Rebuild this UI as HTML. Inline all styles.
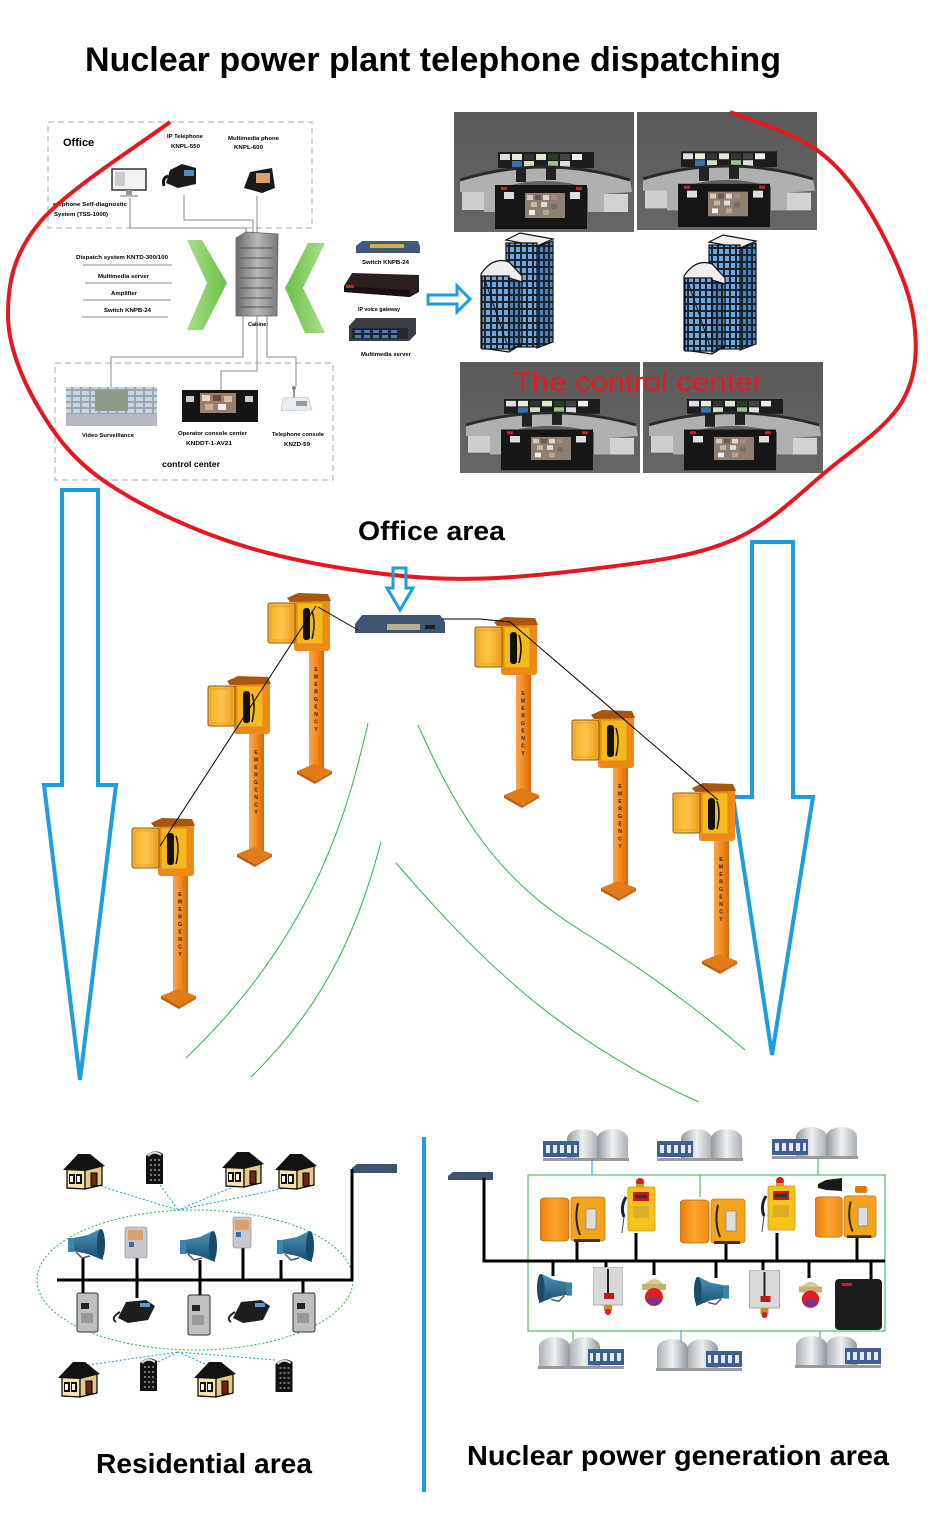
<!DOCTYPE html>
<html><head><meta charset="utf-8"><style>
html,body{margin:0;padding:0;background:#fff;}
svg{display:block;font-family:"Liberation Sans",Arial,sans-serif;}
</style></head><body>
<svg width="928" height="1536" viewBox="0 0 928 1536" xmlns="http://www.w3.org/2000/svg" xmlns:xlink="http://www.w3.org/1999/xlink">
<defs>
<linearGradient id="bgcc" x1="0" y1="0" x2="0" y2="1"><stop offset="0" stop-color="#5a5a5a"/><stop offset="1" stop-color="#666"/></linearGradient>
<linearGradient id="grn" x1="0" y1="0" x2="1" y2="0"><stop offset="0" stop-color="#a8dd88"/><stop offset="1" stop-color="#6cc14a"/></linearGradient>
<linearGradient id="grn2" x1="1" y1="0" x2="0" y2="0"><stop offset="0" stop-color="#a8dd88"/><stop offset="1" stop-color="#6cc14a"/></linearGradient>
<linearGradient id="cab" x1="0" y1="0" x2="1" y2="0"><stop offset="0" stop-color="#6a6a6a"/><stop offset=".5" stop-color="#b8b8b8"/><stop offset="1" stop-color="#7a7a7a"/></linearGradient>
<linearGradient id="dome" x1="0" y1="0" x2="1" y2="0"><stop offset="0" stop-color="#8f989e"/><stop offset=".5" stop-color="#eef0f2"/><stop offset="1" stop-color="#a9b0b5"/></linearGradient>
<linearGradient id="pole" x1="0" y1="0" x2="1" y2="0"><stop offset="0" stop-color="#f9a850"/><stop offset=".5" stop-color="#f28a1e"/><stop offset="1" stop-color="#d06a12"/></linearGradient>
<linearGradient id="door" x1="0" y1="0" x2="1" y2="0"><stop offset="0" stop-color="#f6b02a"/><stop offset=".5" stop-color="#fcc44a"/><stop offset="1" stop-color="#ec9f1c"/></linearGradient>
<linearGradient id="odoor" x1="0" y1="0" x2="1" y2="0"><stop offset="0" stop-color="#f07c10"/><stop offset=".5" stop-color="#fca62c"/><stop offset="1" stop-color="#ee8a18"/></linearGradient>
<linearGradient id="horn" x1="0" y1="0" x2="0" y2="1"><stop offset="0" stop-color="#4a93b8"/><stop offset="1" stop-color="#184d6c"/></linearGradient>
<pattern id="win" width="6" height="7" patternUnits="userSpaceOnUse"><rect width="6" height="7" fill="#1b2530"/><rect x="1" y="1" width="4" height="5" fill="#6ea8de"/></pattern>
<pattern id="win2" width="5" height="7" patternUnits="userSpaceOnUse"><rect width="5" height="7" fill="#1b2530"/><rect x="1" y="1" width="3" height="5" fill="#4b86bf"/></pattern>
<pattern id="vw" width="9" height="6" patternUnits="userSpaceOnUse"><rect width="9" height="6" fill="#9aa6b2"/><rect x="1" y="1" width="7" height="4" fill="#c9d3dc"/></pattern>
<pattern id="rgrid" width="4" height="5" patternUnits="userSpaceOnUse"><rect width="4" height="5" fill="#111"/><rect x="1" y="1" width="2" height="2" fill="#777"/></pattern>

<symbol id="cc" viewBox="0 0 180 120" preserveAspectRatio="none">
<rect width="180" height="120" fill="url(#bgcc)"/>
<rect x="44" y="40" width="96" height="16" fill="#1d1d1d"/>
<rect x="46" y="42" width="10" height="6" fill="#ddd"/><rect x="58" y="42" width="10" height="6" fill="#e9ecd8"/><rect x="70" y="42" width="10" height="6" fill="#333"/><rect x="82" y="42" width="10" height="6" fill="#dfe8d2"/><rect x="94" y="42" width="10" height="6" fill="#2c3a2c"/><rect x="106" y="42" width="10" height="6" fill="#444"/><rect x="118" y="42" width="10" height="6" fill="#eee"/>
<rect x="58" y="49" width="10" height="6" fill="#3b6fb0"/><rect x="70" y="49" width="10" height="6" fill="#cfe0c0"/><rect x="94" y="49" width="10" height="6" fill="#9ac28a"/><rect x="106" y="49" width="10" height="6" fill="#ddd"/>
<path d="M6,68 Q90,42 176,68 L178,80 L150,82 L150,100 L134,100 L134,76 Q90,62 46,76 L46,100 L30,100 L30,82 L6,80Z" fill="#b0b0b0"/>
<path d="M6,68 Q90,42 176,68" fill="none" stroke="#2a2a2a" stroke-width="3"/>
<rect x="8" y="80" width="22" height="18" fill="#cfcfcf"/><rect x="150" y="82" width="24" height="18" fill="#d2d2d2"/>
<rect x="62" y="56" width="10" height="14" fill="#222"/><rect x="92" y="54" width="10" height="14" fill="#222"/>
<rect x="41" y="73" width="92" height="44" fill="#161616"/>
<rect x="71" y="81" width="40" height="25" fill="#8d7f74"/>
<rect x="73" y="83" width="6" height="5" fill="#d9c8b4"/><rect x="81" y="83" width="6" height="5" fill="#6a5a4e"/><rect x="89" y="83" width="6" height="5" fill="#e5d7c8"/><rect x="97" y="83" width="6" height="5" fill="#a88"/><rect x="77" y="90" width="6" height="5" fill="#c9b8a0"/><rect x="87" y="90" width="6" height="5" fill="#ddd"/><rect x="97" y="92" width="6" height="5" fill="#7c6a60"/><rect x="75" y="98" width="6" height="5" fill="#eee"/><rect x="89" y="98" width="6" height="5" fill="#b9a58e"/>
<rect x="50" y="80" width="10" height="7" fill="#ddd"/><rect x="116" y="80" width="10" height="7" fill="#ddd"/>
<rect x="47" y="75" width="6" height="3" fill="#c0262a"/><rect x="122" y="75" width="6" height="3" fill="#c0262a"/>
</symbol>

<symbol id="bld" viewBox="0 0 76 122">
<polygon points="27,8 41,1 74,7 58,14" fill="#f0f0f0" stroke="#111" stroke-width="1.2"/>
<rect x="27" y="11" width="31" height="104" fill="url(#win)" stroke="#111" stroke-width="1.2"/>
<polygon points="58,14 74,9 74,110 58,116" fill="url(#win2)" stroke="#111" stroke-width="1.2"/>
<path d="M2,42 Q14,24 30,30 L43,44 L43,112 L30,120 L2,116Z" fill="#eee" stroke="#111" stroke-width="1.2"/>
<rect x="3" y="44" width="27" height="73" fill="url(#win)" stroke="#111" stroke-width="1.2"/>
<polygon points="30,46 43,50 43,112 30,118" fill="url(#win2)" stroke="#111" stroke-width="1.2"/>
<line x1="6" y1="48" x2="28" y2="112" stroke="#111" stroke-width="1"/>
</symbol>

<symbol id="post" viewBox="0 0 64 190" overflow="visible">
<rect x="41" y="55" width="15" height="120" fill="url(#pole)"/>
<polygon points="29,178 46,171 64,178 47,188" fill="#e27a18"/>
<polygon points="29,178 47,188 47,191 29,181" fill="#b85f10"/>
<polygon points="47,188 64,178 64,181 47,191" fill="#c96a14"/>
<rect x="26" y="4" width="36" height="54" rx="3" fill="#ee8a1c"/>
<polygon points="19,5 30,0 60,1 63,8 22,9" fill="#a9570f"/>
<rect x="29" y="10" width="26" height="41" fill="#f6b81a" stroke="#d9900e" stroke-width="1"/>
<rect x="35" y="15" width="7" height="32" rx="3" fill="#111"/>
<path d="M44,18 Q48,30 44,46" stroke="#111" stroke-width="1.5" fill="none"/>
<rect x="0" y="10" width="27" height="40" rx="2" fill="url(#door)" stroke="#8a5d0c" stroke-width="1"/>
<rect x="3" y="13" width="21" height="34" fill="none" stroke="#e6a020" stroke-width="1"/>
</symbol>

<symbol id="house" viewBox="0 0 42 38">
<polygon points="4,36 4,16 22,18 22,37" fill="#f4e3ae" stroke="#000" stroke-width="1.2"/>
<polygon points="22,18 39,14 39,33 22,37" fill="#e3c985" stroke="#000" stroke-width="1.2"/>
<polygon points="0,18 15,2 27,2 42,14 22,19" fill="#111"/>
<rect x="6" y="22" width="6" height="10" fill="#111"/><rect x="13" y="22" width="6" height="10" fill="#111"/>
<rect x="7" y="24" width="3" height="6" fill="#fff"/><rect x="14" y="24" width="3" height="6" fill="#fff"/>
<rect x="28" y="21" width="6" height="13" fill="#6b2a10" stroke="#000"/>
</symbol>

<symbol id="tower" viewBox="0 0 19 38">
<path d="M1,8 Q9,0 18,6 L18,36 L1,36Z" fill="#111"/>
<path d="M3,8 Q9,2 16,7" stroke="#ddd" stroke-width="2" fill="none"/>
<rect x="3" y="11" width="12" height="23" fill="url(#rgrid)"/>
</symbol>

<symbol id="tank" viewBox="0 0 86 34">
<rect x="24" y="10" width="31" height="20" fill="url(#dome)"/><ellipse cx="39.5" cy="11" rx="15.5" ry="10" fill="url(#dome)"/>
<rect x="54" y="10" width="31" height="20" fill="url(#dome)"/><ellipse cx="69.5" cy="11" rx="15.5" ry="10" fill="url(#dome)"/>
<rect x="0" y="13" width="36" height="16" fill="#3f5f93"/>
<rect x="3" y="17" width="4" height="8" fill="#e6eaf0"/><rect x="10" y="17" width="4" height="8" fill="#e6eaf0"/><rect x="17" y="17" width="4" height="8" fill="#e6eaf0"/><rect x="24" y="17" width="4" height="8" fill="#e6eaf0"/><rect x="31" y="17" width="3" height="8" fill="#e6eaf0"/>
<rect x="0" y="30" width="86" height="3" fill="#9a9a9a"/>
</symbol>

<symbol id="hornR" viewBox="0 0 38 34">
<polygon points="0,11 20,7 32,1 35,32 20,26 0,22" fill="url(#horn)"/>
<ellipse cx="33" cy="16" rx="4" ry="15" fill="#1a4a68"/>
<rect x="0" y="10" width="6" height="14" fill="#3b84ad"/>
<path d="M8,24 L14,30 L22,28" stroke="#555" stroke-width="1.5" fill="none"/>
</symbol>

<symbol id="bigph" viewBox="0 0 66 48">
<rect x="0" y="3" width="29" height="43" rx="4" fill="url(#odoor)" stroke="#b86a10" stroke-width=".8"/>
<rect x="31" y="2" width="34" height="44" rx="3" fill="#f4a41c" stroke="#c87a12" stroke-width=".8"/>
<rect x="46" y="14" width="10" height="20" fill="#ddd" stroke="#777" stroke-width=".6"/>
<path d="M38,8 Q34,25 40,40" stroke="#222" stroke-width="2" fill="none"/>
<rect x="34" y="44" width="26" height="3" fill="#333"/>
</symbol>

<symbol id="yph" viewBox="0 0 36 58">
<circle cx="20" cy="5" r="4" fill="#d42020"/><rect x="16" y="7" width="8" height="3" fill="#c8a040"/>
<rect x="8" y="10" width="27" height="44" rx="2" fill="#f5c21a" stroke="#c8960e" stroke-width=".8"/>
<rect x="13" y="15" width="16" height="9" fill="#c01818"/><rect x="15" y="18" width="12" height="3" fill="#333"/>
<rect x="13" y="29" width="16" height="12" fill="#c8a030" opacity=".6"/>
<path d="M6,20 Q0,30 4,40" stroke="#222" stroke-width="3" fill="none"/>
<line x1="4" y1="40" x2="2" y2="56" stroke="#444"/>
</symbol>

<symbol id="jbox" viewBox="0 0 30 48">
<rect x="0" y="0" width="30" height="38" fill="#d9d9d9" stroke="#999" stroke-width=".8"/>
<line x1="15" y1="2" x2="15" y2="26" stroke="#222" stroke-width="2"/>
<rect x="11" y="26" width="10" height="6" fill="#c01818"/>
<rect x="11" y="38" width="8" height="6" fill="#c88a30"/><circle cx="15" cy="45" r="3" fill="#d42020"/>
</symbol>

<symbol id="beacon" viewBox="0 0 28 34">
<path d="M4,12 Q14,0 24,12Z" fill="#d8c890"/><rect x="2" y="11" width="24" height="6" fill="#c9b070"/>
<ellipse cx="14" cy="24" rx="9" ry="9" fill="#e02020"/><ellipse cx="14" cy="28" rx="7" ry="4" fill="#3344cc" opacity=".6"/>
</symbol>
</defs>

<!-- Title -->
<text x="85" y="71" font-size="34" font-weight="bold" textLength="696" lengthAdjust="spacingAndGlyphs" fill="#000">Nuclear power plant telephone dispatching</text>

<!-- Office dashed boxes -->
<rect x="48" y="122" width="264" height="106" fill="none" stroke="#a8a8a8" stroke-dasharray="6,4" stroke-width="1"/>
<rect x="55" y="363" width="278" height="117" fill="none" stroke="#a8a8a8" stroke-dasharray="6,4" stroke-width="1"/>
<text x="63" y="146" font-size="11" font-weight="bold">Office</text>
<text x="53" y="206" font-size="5.5" font-weight="bold" textLength="74" lengthAdjust="spacingAndGlyphs">elephone Self-diagnostic</text>
<text x="54" y="216" font-size="5.5" font-weight="bold" textLength="54" lengthAdjust="spacingAndGlyphs">System (TSS-1000)</text>
<text x="167" y="138" font-size="5.5" font-weight="bold" textLength="36" lengthAdjust="spacingAndGlyphs">IP Telephone</text>
<text x="171" y="148" font-size="5.5" font-weight="bold" textLength="29" lengthAdjust="spacingAndGlyphs">KNPL-550</text>
<text x="228" y="140" font-size="5.5" font-weight="bold" textLength="51" lengthAdjust="spacingAndGlyphs">Multimedia phone</text>
<text x="234" y="149" font-size="5.5" font-weight="bold" textLength="29" lengthAdjust="spacingAndGlyphs">KNPL-600</text>
<!-- computer -->
<rect x="112" y="169" width="34" height="21" fill="#f2f2f2" stroke="#333" stroke-width="1.5"/>
<rect x="115" y="172" width="10" height="14" fill="#ccc"/>
<rect x="126" y="190" width="6" height="5" fill="#999"/><rect x="120" y="195" width="18" height="2" fill="#bbb"/>
<!-- IP phone -->
<path d="M166,183 L170,170 L182,164 L196,168 L196,184 L178,188Z" fill="#1a1a1a"/>
<rect x="184" y="170" width="10" height="6" fill="#4a88c8"/>
<path d="M164,186 Q162,178 168,176" stroke="#111" stroke-width="3" fill="none"/>
<!-- multimedia phone -->
<path d="M244,188 L250,172 L272,168 L275,188 L262,193Z" fill="#1a1a1a"/>
<rect x="256" y="173" width="14" height="10" fill="#d8a070"/>
<!-- office lines -->
<polyline points="130,198 130,228 246,228 246,237" fill="none" stroke="#888" stroke-width="1"/>
<polyline points="184,195 184,220 253,220 253,236" fill="none" stroke="#888" stroke-width="1"/>
<line x1="257" y1="196" x2="257" y2="236" stroke="#888" stroke-width="1"/>
<!-- chevrons -->
<polygon points="187,240 202,240 227,283 203,330 187,330 207,283" fill="url(#grn)"/>
<polygon points="325,243 308,243 285,288 305,333 325,333 303,288" fill="url(#grn2)"/>
<!-- cabinet -->
<polygon points="236,238 246,232 278,234 277,316 236,316" fill="url(#cab)" stroke="#666" stroke-width=".8"/>
<g stroke="#555" stroke-width="1"><line x1="240" y1="248" x2="273" y2="248"/><line x1="240" y1="258" x2="273" y2="258"/><line x1="240" y1="268" x2="273" y2="268"/><line x1="240" y1="278" x2="273" y2="278"/><line x1="240" y1="288" x2="273" y2="288"/><line x1="240" y1="298" x2="273" y2="298"/><line x1="240" y1="307" x2="273" y2="307"/></g>
<text x="248" y="326" font-size="5.5" font-weight="bold">Cabinet</text>
<!-- left list -->
<text x="76" y="259" font-size="5.5" font-weight="bold" textLength="92" lengthAdjust="spacingAndGlyphs">Dispatch system KNTD-300/100</text>
<line x1="83" y1="265" x2="172" y2="265" stroke="#888"/>
<text x="98" y="278" font-size="5.5" font-weight="bold" textLength="51" lengthAdjust="spacingAndGlyphs">Multimedia server</text>
<line x1="85" y1="283" x2="172" y2="283" stroke="#888"/>
<text x="111" y="295" font-size="5.5" font-weight="bold" textLength="26" lengthAdjust="spacingAndGlyphs">Amplifier</text>
<line x1="83" y1="300" x2="171" y2="300" stroke="#888"/>
<text x="104" y="312" font-size="5.5" font-weight="bold" textLength="47" lengthAdjust="spacingAndGlyphs">Switch KNPB-24</text>
<line x1="82" y1="317" x2="168" y2="317" stroke="#888"/>
<!-- cabinet down lines -->
<polyline points="243,316 243,357 111,357 111,388" fill="none" stroke="#888"/>
<polyline points="257,316 257,371 221,371 221,390" fill="none" stroke="#888"/>
<polyline points="267,316 267,357 296,357 296,386" fill="none" stroke="#888"/>
<!-- control center devices -->
<rect x="66" y="387" width="91" height="39" fill="url(#vw)"/>
<rect x="95" y="390" width="33" height="21" fill="#8d9a8a"/><rect x="66" y="414" width="91" height="12" fill="#b5b9bd"/>
<text x="82" y="437" font-size="5.5" font-weight="bold" textLength="52" lengthAdjust="spacingAndGlyphs">Video Surveillance</text>
<rect x="182" y="390" width="76" height="32" fill="#151515"/>
<rect x="200" y="393" width="36" height="20" fill="#9a7f70"/>
<rect x="202" y="395" width="8" height="6" fill="#e8d8c0"/><rect x="213" y="395" width="8" height="6" fill="#6a4a3a"/><rect x="224" y="396" width="8" height="6" fill="#d8c0a8"/><rect x="205" y="404" width="8" height="6" fill="#c9b090"/><rect x="218" y="404" width="8" height="6" fill="#eee"/>
<rect x="186" y="396" width="8" height="6" fill="#ccc"/><rect x="245" y="396" width="8" height="6" fill="#ccc"/>
<text x="178" y="435" font-size="5.5" font-weight="bold" textLength="69" lengthAdjust="spacingAndGlyphs">Operator console center</text>
<text x="186" y="445" font-size="5.5" font-weight="bold" textLength="46" lengthAdjust="spacingAndGlyphs">KNDDT-1-AV21</text>
<line x1="294" y1="388" x2="294" y2="398" stroke="#777" stroke-width="1.5"/><circle cx="294" cy="388" r="2" fill="#888"/>
<polygon points="283,398 308,397 312,410 281,411" fill="#e8ecef" stroke="#bbb" stroke-width=".6"/>
<rect x="296" y="401" width="11" height="5" fill="#999"/>
<text x="272" y="436" font-size="5.5" font-weight="bold" textLength="52" lengthAdjust="spacingAndGlyphs">Telephone console</text>
<text x="284" y="446" font-size="5.5" font-weight="bold" textLength="26" lengthAdjust="spacingAndGlyphs">KNZD-59</text>
<text x="162" y="467" font-size="8" font-weight="bold" textLength="58" lengthAdjust="spacingAndGlyphs">control center</text>

<!-- right devices -->
<polygon points="356,246 362,241 418,241 420,246 420,253 356,253" fill="#41597a"/>
<rect x="370" y="244" width="34" height="4" fill="#c9b24a"/>
<text x="362" y="264" font-size="5.5" font-weight="bold" textLength="47" lengthAdjust="spacingAndGlyphs">Switch KNPB-24</text>
<polygon points="344,286 352,273 419,275 419,292 410,297 344,292" fill="#2a2020"/>
<polygon points="344,286 410,290 410,297 344,292" fill="#1a1212"/>
<rect x="346" y="285" width="8" height="3" fill="#c02020"/>
<text x="358" y="311" font-size="5" font-weight="bold" textLength="42" lengthAdjust="spacingAndGlyphs">IP voice gateway</text>
<polygon points="349,326 356,318 416,318 416,334 409,341 349,341" fill="#3a3e44"/>
<rect x="352" y="328" width="56" height="11" fill="#23292f"/>
<g fill="#4a7ab8"><rect x="355" y="330" width="6" height="3"/><rect x="364" y="330" width="6" height="3"/><rect x="373" y="330" width="6" height="3"/><rect x="382" y="330" width="6" height="3"/><rect x="391" y="330" width="6" height="3"/><rect x="355" y="335" width="6" height="3"/><rect x="364" y="335" width="6" height="3"/><rect x="373" y="335" width="6" height="3"/><rect x="382" y="335" width="6" height="3"/><rect x="391" y="335" width="6" height="3"/></g>
<text x="361" y="356" font-size="5.5" font-weight="bold" textLength="50" lengthAdjust="spacingAndGlyphs">Multimedia server</text>
<polygon points="428,295 457,295 457,286 470,299 457,312 457,304 428,304" fill="none" stroke="#1a9ee0" stroke-width="3"/>

<!-- control center photos -->
<use href="#cc" x="454" y="112" width="180" height="120"/>
<use href="#cc" x="637" y="112" width="180" height="118"/>
<use href="#cc" x="460" y="362" width="180" height="111"/>
<use href="#cc" x="643" y="362" width="180" height="111"/>
<use href="#bld" x="479" y="232" width="76" height="122"/>
<use href="#bld" x="682" y="234" width="76" height="122"/>
<text x="513" y="391" font-size="27" fill="#e8161e" textLength="250" lengthAdjust="spacingAndGlyphs">The control center</text>

<!-- red ellipse -->
<path d="M170,122 C148.3,138.7 67,189.8 40,222 C13,254.2 8,283.7 8,315 C8,346.3 23,381.7 40,410 C57,438.3 75,462 110,485 C145,508 196.7,532.5 250,548 C303.3,563.5 371.7,574.7 430,578 C488.3,581.3 549.5,574.3 600,568 C650.5,561.7 695,556.3 733,540 C771,523.7 799.7,493.3 828,470 C856.3,446.7 888.8,425.8 903,400 C917.2,374.2 918,345.5 913,315 C908,284.5 889,244.5 873,217 C857,189.5 840.8,167.5 817,150 C793.2,132.5 744.5,118.3 730,112" fill="none" stroke="#e8161e" stroke-width="4"/>

<text x="358" y="540" font-size="27" font-weight="bold" textLength="147" lengthAdjust="spacingAndGlyphs">Office area</text>

<!-- blue arrows -->
<polygon points="62,490 98,490 98,785 116,785 80,1080 44,785 62,785" fill="none" stroke="#1a9ee0" stroke-width="4" stroke-linejoin="miter"/>
<polygon points="752,542 793,542 793,797 813,797 772,1055 733,797 752,797" fill="none" stroke="#1a9ee0" stroke-width="4"/>
<polygon points="393,568 406,568 406,588 413,588 400,610 387,588 393,588" fill="none" stroke="#1a9ee0" stroke-width="3"/>

<!-- green curves -->
<g fill="none" stroke="#2fb34a" stroke-width="1">
<path d="M368,723 C350,800 320,930 186,1058"/>
<path d="M381,842 C360,920 330,1000 251,1077"/>
<path d="M418,725 C460,820 500,880 580,930 C660,980 710,1020 745,1050"/>
<path d="M396,863 C480,960 560,1040 699,1102"/>
</g>

<!-- switch middle -->
<polygon points="355,624 362,615 440,615 445,622 445,633 355,633" fill="#3f5470"/>
<rect x="387" y="624" width="33" height="6" fill="#b9b090"/>
<rect x="425" y="625" width="10" height="4" fill="#222"/>

<!-- posts -->
<use href="#post" x="268" y="593" width="64" height="190"/>
<use href="#post" x="208" y="676" width="64" height="190"/>
<use href="#post" x="132" y="818" width="64" height="190"/>
<use href="#post" x="475" y="617" width="64" height="190"/>
<use href="#post" x="572" y="710" width="64" height="190"/>
<use href="#post" x="673" y="783" width="64" height="190"/>
<g font-size="5" font-weight="bold" fill="#222" text-anchor="start">
<text x="316" y="667" style="writing-mode:vertical-rl;text-orientation:upright;letter-spacing:1.5px">EMERGENCY</text>
<text x="256" y="750" style="writing-mode:vertical-rl;text-orientation:upright;letter-spacing:1.5px">EMERGENCY</text>
<text x="180" y="892" style="writing-mode:vertical-rl;text-orientation:upright;letter-spacing:1.5px">EMERGENCY</text>
<text x="523" y="691" style="writing-mode:vertical-rl;text-orientation:upright;letter-spacing:1.5px">EMERGENCY</text>
<text x="620" y="784" style="writing-mode:vertical-rl;text-orientation:upright;letter-spacing:1.5px">EMERGENCY</text>
<text x="721" y="857" style="writing-mode:vertical-rl;text-orientation:upright;letter-spacing:1.5px">EMERGENCY</text>
</g>
<!-- black connection lines -->
<g stroke="#000" stroke-width="1" fill="none">
<line x1="318" y1="607" x2="358" y2="630"/>
<line x1="316" y1="606" x2="160" y2="846"/>
<polyline points="442,619 480,619 510,622 718,800"/>
</g>

<!-- Residential -->
<ellipse cx="195" cy="1280" rx="158" ry="70" fill="none" stroke="#2fb34a" stroke-width="1" stroke-dasharray="2,2"/>
<g stroke="#1a9ee0" stroke-width="1" stroke-dasharray="2,2" fill="none">
<line x1="97" y1="1185" x2="178" y2="1210"/><line x1="160" y1="1185" x2="178" y2="1210"/><line x1="238" y1="1185" x2="178" y2="1210"/><line x1="290" y1="1187" x2="178" y2="1210"/>
<line x1="88" y1="1365" x2="178" y2="1352"/><line x1="158" y1="1362" x2="178" y2="1352"/><line x1="205" y1="1364" x2="178" y2="1352"/><line x1="275" y1="1360" x2="178" y2="1352"/>
</g>
<use href="#house" x="63" y="1152" width="42" height="38"/>
<use href="#tower" x="145" y="1148" width="19" height="38"/>
<use href="#house" x="222" y="1150" width="42" height="38"/>
<use href="#house" x="275" y="1152" width="42" height="38"/>
<use href="#house" x="58" y="1360" width="42" height="38"/>
<use href="#tower" x="138" y="1355" width="21" height="38"/>
<use href="#house" x="194" y="1360" width="42" height="38"/>
<use href="#tower" x="274" y="1356" width="20" height="38"/>
<polygon points="352,1168 357,1164 397,1164 397,1173 352,1173" fill="#3f5470"/>
<g stroke="#000" stroke-width="3" fill="none">
<polyline points="352,1169 352,1280 57,1280"/>
<line x1="83" y1="1258" x2="83" y2="1295"/><line x1="137" y1="1256" x2="137" y2="1298"/><line x1="200" y1="1260" x2="200" y2="1297"/><line x1="243" y1="1247" x2="243" y2="1280"/><line x1="281" y1="1260" x2="281" y2="1280"/><line x1="303" y1="1280" x2="303" y2="1294"/>
</g>
<use href="#hornR" x="68" y="1228" width="38" height="34"/>
<use href="#hornR" x="180" y="1230" width="38" height="34"/>
<use href="#hornR" x="277" y="1230" width="38" height="34"/>
<g><rect x="125" y="1227" width="22" height="31" rx="2" fill="#c8c8cc" stroke="#888" stroke-width=".6"/><rect x="128" y="1230" width="15" height="10" fill="#d8a070"/><rect x="129" y="1242" width="5" height="5" fill="#3a6ab0"/></g>
<g><rect x="233" y="1217" width="18" height="31" rx="2" fill="#c8c8cc" stroke="#888" stroke-width=".6"/><rect x="235" y="1220" width="14" height="10" fill="#d8a070"/><rect x="236" y="1232" width="5" height="5" fill="#3a6ab0"/></g>
<g><rect x="77" y="1293" width="21" height="39" rx="2" fill="#bfbfbf" stroke="#333" stroke-width="1"/><rect x="81" y="1303" width="8" height="6" fill="#222"/><rect x="81" y="1313" width="12" height="10" fill="#999"/></g>
<g><rect x="188" y="1295" width="22" height="40" rx="2" fill="#bfbfbf" stroke="#333" stroke-width="1"/><rect x="192" y="1305" width="8" height="6" fill="#222"/><rect x="192" y="1315" width="12" height="10" fill="#999"/></g>
<g><rect x="293" y="1293" width="22" height="39" rx="2" fill="#bfbfbf" stroke="#333" stroke-width="1"/><rect x="297" y="1303" width="8" height="6" fill="#222"/><rect x="297" y="1313" width="12" height="10" fill="#999"/></g>
<g><path d="M118,1318 L126,1302 L146,1300 L155,1306 L148,1320 L128,1323Z" fill="#1e1e1e"/><rect x="140" y="1303" width="10" height="4" fill="#5a9ad8"/><path d="M116,1322 Q110,1318 120,1312" stroke="#222" stroke-width="2" fill="none"/></g>
<g><path d="M233,1318 L241,1302 L261,1300 L270,1306 L263,1320 L243,1323Z" fill="#1e1e1e"/><rect x="255" y="1303" width="10" height="4" fill="#5a9ad8"/><path d="M231,1322 Q225,1318 235,1312" stroke="#222" stroke-width="2" fill="none"/></g>
<text x="96" y="1473" font-size="28" font-weight="bold" textLength="216" lengthAdjust="spacingAndGlyphs">Residential area</text>

<!-- divider -->
<line x1="424" y1="1137" x2="424" y2="1492" stroke="#1a9ee0" stroke-width="4"/>

<!-- Nuclear area -->
<rect x="528" y="1175" width="357" height="156" fill="none" stroke="#2fb34a" stroke-width="1"/>
<use href="#tank" x="543" y="1128" width="86" height="34"/>
<use href="#tank" x="657" y="1128" width="86" height="34"/>
<use href="#tank" x="772" y="1126" width="86" height="34"/>
<use href="#tank" x="538" y="1336" width="86" height="34" transform="translate(1162,0) scale(-1,1)"/>
<use href="#tank" x="657" y="1338" width="86" height="34" transform="translate(1399,0) scale(-1,1)"/>
<use href="#tank" x="795" y="1335" width="86" height="34" transform="translate(1676,0) scale(-1,1)"/>
<line x1="592" y1="1160" x2="592" y2="1175" stroke="#1a9ee0"/>
<line x1="700" y1="1175" x2="700" y2="1197" stroke="#2fb34a"/>
<line x1="818" y1="1158" x2="818" y2="1175" stroke="#2fb34a"/>
<line x1="573" y1="1331" x2="573" y2="1340" stroke="#2fb34a"/>
<line x1="681" y1="1331" x2="681" y2="1342" stroke="#1a9ee0"/>
<line x1="820" y1="1331" x2="820" y2="1338" stroke="#2fb34a"/>
<polygon points="448,1176 453,1172 493,1172 493,1180 448,1180" fill="#3f5470"/>
<g stroke="#000" stroke-width="3" fill="none">
<polyline points="484,1178 484,1261 885,1261"/>
<line x1="577" y1="1240" x2="577" y2="1261"/><line x1="636" y1="1233" x2="636" y2="1261"/><line x1="726" y1="1242" x2="726" y2="1261"/><line x1="777" y1="1233" x2="777" y2="1261"/><line x1="857" y1="1236" x2="857" y2="1261"/>
<line x1="553" y1="1261" x2="553" y2="1276"/><line x1="606" y1="1261" x2="606" y2="1270"/><line x1="654" y1="1261" x2="654" y2="1275"/><line x1="716" y1="1261" x2="716" y2="1278"/><line x1="763" y1="1261" x2="763" y2="1272"/><line x1="809" y1="1261" x2="809" y2="1278"/><line x1="871" y1="1261" x2="871" y2="1280"/>
</g>
<use href="#bigph" x="540" y="1195" width="66" height="48"/>
<use href="#bigph" x="680" y="1197" width="66" height="48"/>
<use href="#bigph" x="815" y="1194" width="62" height="45"/>
<use href="#yph" x="620" y="1177" width="36" height="58"/>
<use href="#yph" x="760" y="1176" width="36" height="58"/>
<polygon points="818,1184 826,1180 842,1178 842,1191 826,1190 818,1188" fill="#1a1a1a"/>
<rect x="855" y="1186" width="12" height="7" rx="2" fill="#e07a10"/>
<g transform="translate(572,1272) scale(-1,1)"><use href="#hornR" x="0" y="0" width="36" height="34"/></g>
<g transform="translate(729,1275) scale(-1,1)"><use href="#hornR" x="0" y="0" width="36" height="34"/></g>
<use href="#jbox" x="593" y="1267" width="30" height="48"/>
<use href="#jbox" x="749" y="1270" width="31" height="48"/>
<use href="#beacon" x="640" y="1273" width="28" height="34"/>
<use href="#beacon" x="797" y="1276" width="27" height="33"/>
<rect x="835" y="1279" width="47" height="51" rx="4" fill="#1e1e20"/>
<rect x="842" y="1283" width="10" height="3" fill="#c02020"/>
<text x="467" y="1465" font-size="28" font-weight="bold" textLength="422" lengthAdjust="spacingAndGlyphs">Nuclear power generation area</text>
</svg>
</body></html>
